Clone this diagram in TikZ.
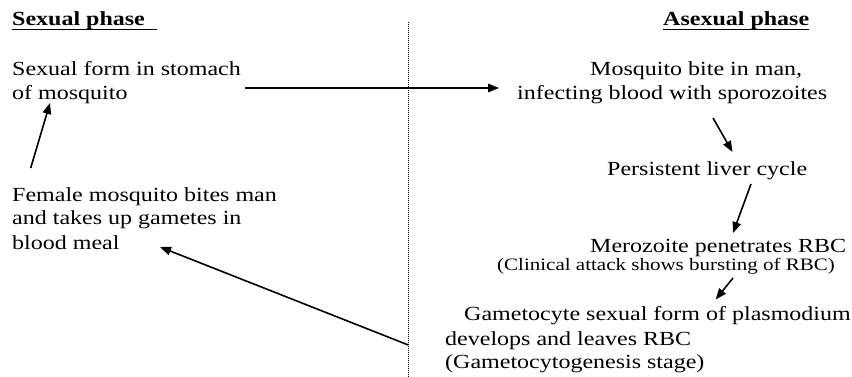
\documentclass[tikz,border=0pt]{standalone}
\usepackage{fontspec}
\setmainfont{Liberation Serif}[FakeStretch=1.2]
\usetikzlibrary{arrows.meta}
\tikzset{
  txt/.style={anchor=base west, inner sep=0pt, font=\fontsize{20}{24}\selectfont},
  smalltxt/.style={anchor=base west, inner sep=0pt, font=\fontsize{17.5}{21}\selectfont},
  headtxt/.style={anchor=base west, inner sep=0pt, font=\bfseries\fontsize{20}{24}\selectfont},
  uline/.style={line width=1.4pt},
  arr/.style={-{Triangle[length=11pt,width=8.5pt]}, line width=1.6pt},
  divider/.style={line width=0.8pt, dash pattern=on 0.9pt off 1.1pt}
}
\begin{document}
\begin{tikzpicture}[x=1pt,y=-1pt]
\useasboundingbox (0,0) rectangle (852,377);
% headings
\node[headtxt] (hsex) at (12,26) {Sexual phase};
\node[headtxt] (hasex) at (663,26) {Asexual phase};
\draw[uline] ([yshift=-3.3pt]hsex.base west) -- ([xshift=12pt,yshift=-3.3pt]hsex.base east);
\draw[uline] ([yshift=-3.3pt]hasex.base west) -- ([yshift=-3.3pt]hasex.base east);
% divider
\coordinate (dtop) at (408.3,22);
\coordinate (dbot) at (408.3,377);
\draw[divider] (dtop) -- (dbot);
% left texts
\node[txt] (sf1) at (12,76) {Sexual form in stomach};
\node[txt] (sf2) at (12,100) {of mosquito};
\node[txt] (fm1) at (12,201) {Female mosquito bites man};
\node[txt] (fm2) at (12,225) {and takes up gametes in};
\node[txt] (fm3) at (12,249) {blood meal};
% right texts
\node[txt] (mb1) at (590,76) {Mosquito bite in man,};
\node[txt] (mb2) at (517,100) {infecting blood with sporozoites};
\node[txt] (plc) at (607,176) {Persistent liver cycle};
\node[txt] (mer) at (590,252) {Merozoite penetrates RBC};
\node[smalltxt] (cli) at (497,270) {(Clinical attack shows bursting of RBC)};
\node[txt] (gm1) at (464,320) {Gametocyte sexual form of plasmodium};
\node[txt] (gm2) at (445,345) {develops and leaves RBC};
\node[txt] (gm3) at (445,368) {(Gametocytogenesis stage)};
% arrow end points
\coordinate (a1s) at (245,88);   \coordinate (a1e) at (499,88);
\coordinate (a2s) at (30.7,168); \coordinate (a2e) at (50,103);
\coordinate (a3s) at (713,118);  \coordinate (a3e) at (732.5,152);
\coordinate (a4s) at (751,184);  \coordinate (a4e) at (733,233);
\coordinate (a5s) at (733,278);  \coordinate (a5e) at (715.7,299.5);
\coordinate (a6s) at (408.3,345);\coordinate (a6e) at (160,247);
\draw[arr] (a1s) -- (a1e);
\draw[arr] (a2s) -- (a2e);
\draw[arr] (a3s) -- (a3e);
\draw[arr] (a4s) -- (a4e);
\draw[arr] (a5s) -- (a5e);
\draw[arr] (a6s) -- (a6e);
\end{tikzpicture}
\end{document}
